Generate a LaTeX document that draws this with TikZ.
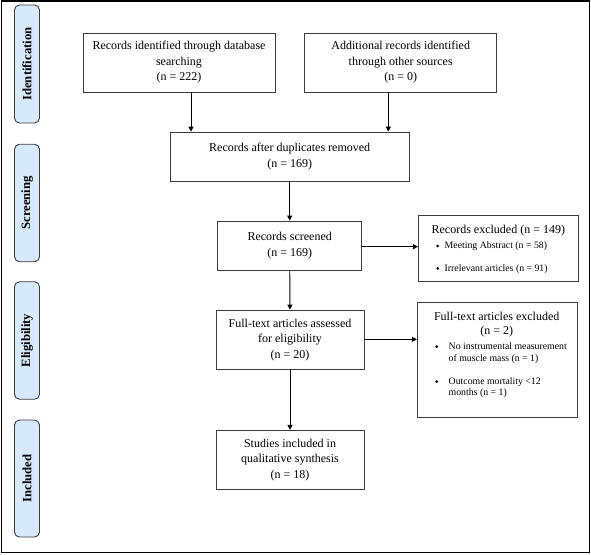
\documentclass[tikz,border=0pt]{standalone}
\usepackage{fontspec}
\setmainfont{Liberation Serif}
\usetikzlibrary{arrows.meta}
\definecolor{phase}{RGB}{214,234,252}
\definecolor{edge}{RGB}{60,60,60}
\tikzset{
  phasebox/.style={draw=edge,fill=phase,rounded corners=5pt,line width=0.9pt,minimum width=25pt,inner sep=0pt},
  phasetext/.style={rotate=90,font=\fontsize{12.7}{14}\selectfont\bfseries},
  flowbox/.style={draw=edge,line width=0.8pt,inner sep=0pt,align=center,font=\fontsize{12}{15.5}\selectfont},
  txt/.style={inner sep=0pt,font=\fontsize{12}{15}\selectfont},
  small/.style={inner sep=0pt,anchor=west,font=\fontsize{9.8}{12.3}\selectfont},
  dot/.style={circle,fill=black,inner sep=0pt,minimum size=3pt},
  flow/.style={line width=0.9pt,-{Triangle[length=5pt,width=5pt]}}
}
\begin{document}
\begin{tikzpicture}[x=1pt,y=-1pt]
\useasboundingbox (0,0) rectangle (591,554);
\node[draw=black,line width=1.2pt,minimum width=588pt,minimum height=551.5pt,inner sep=0pt] (frame) at (295.2,276.8) {};
% phase labels
\node[phasebox,minimum height=118pt] (p1) at (27,64) {};
\node[phasetext] (t1) at (p1) {Identification};
\node[phasebox,minimum height=117.5pt] (p2) at (27,203) {};
\node[phasetext] (t2) at (p2) {Screening};
\node[phasebox,minimum height=117.5pt] (p3) at (27,340.5) {};
\node[phasetext] (t3) at (p3) {Eligibility};
\node[phasebox,minimum height=117pt] (p4) at (27,478.5) {};
\node[phasetext] (t4) at (p4) {Included};
% main boxes
\node[flowbox,minimum width=192pt,minimum height=59pt] (id) at (179,62.5) {Records identified through database\\searching\\(n = 222)};
\node[flowbox,minimum width=192pt,minimum height=59pt] (add) at (400.7,62.5) {Additional records identified\\through other sources\\(n = 0)};
\node[flowbox,minimum width=239.3pt,minimum height=49pt] (dup) at (289.7,156.5) {Records after duplicates removed\\(n = 169)};
\node[flowbox,minimum width=144pt,minimum height=49pt] (scr) at (289.7,245.5) {Records screened\\(n = 169)};
\node[flowbox,minimum width=148pt,minimum height=59.3pt] (elig) at (290,339.7) {Full-text articles assessed\\for eligibility\\(n = 20)};
\node[flowbox,minimum width=148pt,minimum height=59pt] (inc) at (290,459.8) {Studies included in\\qualitative synthesis\\(n = 18)};
% excluded records
\node[flowbox,minimum width=160.3pt,minimum height=66.7pt] (exc1) at (498.5,248.3) {};
\node[txt] (exc1t) at (498.3,230.5) {Records excluded (n = 149)};
\node[dot] (d1) at (437.7,246) {};
\node[small] (b1) at (444.5,246.5) {Meeting Abstract (n = 58)};
\node[dot] (d2) at (437.7,268.3) {};
\node[small] (b2) at (444.5,268.8) {Irrelevant articles (n = 91)};
% excluded full-text
\node[flowbox,minimum width=160pt,minimum height=115.3pt] (exc2) at (497.3,359.7) {};
\node[txt,align=center,font=\fontsize{12}{14.4}\selectfont] (exc2t) at (496.7,324.5) {Full-text articles excluded\\(n = 2)};
\node[dot] (d3) at (436.7,346.7) {};
\node[small,align=left] (b3) at (448.5,353) {No instrumental measurement\\of muscle mass (n = 1)};
\node[dot] (d4) at (436.7,381.7) {};
\node[small,align=left,font=\fontsize{9.8}{11.8}\selectfont] (b4) at (448.5,387.6) {Outcome mortality <12\\months (n = 1)};
% connectors
\draw[flow] (id.south -| 191,0) -- (dup.north -| 191,0);
\draw[flow] (add.south -| 388.3,0) -- (dup.north -| 388.3,0);
\draw[flow] (dup) -- (scr);
\draw[flow] (scr) -- (elig);
\draw[flow] (elig) -- (inc);
\draw[flow] (scr.east |- 0,246.7) -- (exc1.west |- 0,246.7);
\draw[flow] (elig.east |- 0,339.3) -- (exc2.west |- 0,339.3);
\end{tikzpicture}
\end{document}
